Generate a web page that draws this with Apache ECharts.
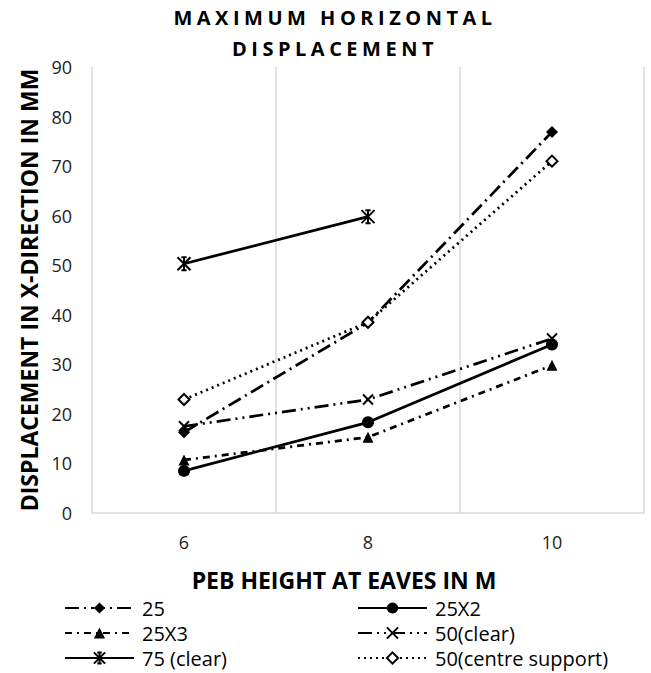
<!DOCTYPE html>
<html>
<head>
<meta charset="utf-8">
<script src="https://cdn.jsdelivr.net/npm/echarts@6/dist/echarts.min.js"></script>
<style>html,body{margin:0;padding:0;background:#fff;}#chart{width:651px;height:673px;}</style>
</head>
<body>
<div id="chart"></div>
<script>
var categories = ['6', '8', '10'];
var s25 = [16.3, 38.4, 76.9];
var s25x2 = [8.5, 18.3, 34.0];
var s25x3 = [10.7, 15.3, 29.8];
var s50clear = [17.5, 22.9, 35.2];
var s75clear = [50.3, 59.8, '-'];
var s50centre = [22.9, 38.5, 71.0];
var yTicks = [0, 10, 20, 30, 40, 50, 60, 70, 80, 90];

var FONT = '"Open Sans", "Liberation Sans", sans-serif';
var X_PATH = 'path://M0,0L10,10M10,0L0,10';
var STAR_PATH = 'path://M0,0L10,10M10,0L0,10M5,0L5,10M3,0L7,0M3,10L7,10';

function mk(name, data, lineType, symbol, size, fill, bw) {
  return {
    name: name,
    type: 'line',
    data: data,
    symbol: symbol,
    symbolSize: size,
    showSymbol: true,
    lineStyle: { color: '#000', width: 2.75, type: lineType },
    itemStyle: { color: fill, borderColor: '#000', borderWidth: bw },
    emphasis: { disabled: true },
    animation: false
  };
}

var chart = echarts.init(document.getElementById('chart'), null, { renderer: 'svg' });
chart.setOption({
  backgroundColor: '#fff',
  animation: false,
  title: {
    text: 'MAXIMUM HORIZONTAL\nDISPLACEMENT',
    left: 335, textAlign: 'center', top: 2, padding: 0,
    textStyle: { fontFamily: FONT, fontWeight: 'bold', fontSize: 20, lineHeight: 31, color: '#000' }
  },
  grid: { left: 92, right: 7, top: 67, bottom: 160 },
  xAxis: {
    type: 'category',
    data: categories,
    boundaryGap: true,
    name: 'PEB HEIGHT AT EAVES IN M',
    nameLocation: 'middle',
    nameGap: 55,
    nameTextStyle: { fontFamily: FONT, fontWeight: 'bold', fontSize: 23, color: '#000', padding: [0, 48, 0, 0] },
    axisLine: { lineStyle: { color: '#d9d9d9', width: 1.5 } },
    axisTick: { show: false },
    axisLabel: { fontFamily: FONT, fontSize: 18, color: '#222', margin: 20 },
    splitLine: { show: true, lineStyle: { color: '#d9d9d9', width: 1.5 } }
  },
  yAxis: {
    type: 'value',
    min: yTicks[0], max: yTicks[yTicks.length - 1], interval: 10,
    name: 'DISPLACEMENT IN X-DIRECTION IN MM',
    nameLocation: 'middle',
    nameGap: 52,
    nameTextStyle: { fontFamily: FONT, fontWeight: 'bold', fontSize: 23, color: '#000' },
    axisLine: { show: false },
    axisTick: { show: false },
    axisLabel: { fontFamily: FONT, fontSize: 18, color: '#222', margin: 20 },
    splitLine: { show: false }
  },
  legend: [
    {
      orient: 'vertical', left: 64, top: 598, padding: 0, itemGap: 5, itemWidth: 69, itemHeight: 14,
      data: ['25', '25X3', '75 (clear)'],
      textStyle: { fontFamily: FONT, fontSize: 20, lineHeight: 19, color: '#000', padding: [0, 0, 0, 3] }
    },
    {
      orient: 'vertical', left: 357, top: 598, padding: 0, itemGap: 5, itemWidth: 69, itemHeight: 14,
      data: ['25X2', '50(clear)', '50(centre support)'],
      textStyle: { fontFamily: FONT, fontSize: 20, lineHeight: 19, color: '#000', padding: [0, 0, 0, 3] }
    }
  ],
  series: [
    mk('25', s25, [14, 5, 2, 5], 'diamond', 12, '#000', 0),
    mk('25X2', s25x2, 'solid', 'circle', 12, '#000', 0),
    mk('25X3', s25x3, [7, 5, 2, 5], 'triangle', 11, '#000', 0),
    mk('50(clear)', s50clear, [14, 5, 2, 5, 2, 5], X_PATH, 10, '#000', 2),
    mk('75 (clear)', s75clear, 'solid', STAR_PATH, 13, '#000', 2),
    mk('50(centre support)', s50centre, [2, 4], 'diamond', 11, '#fff', 2)
  ]
});

function spaceTitle() {
  var texts = document.querySelectorAll('#chart svg text');
  texts.forEach(function (t) {
    var c = t.textContent;
    if ((c === 'MAXIMUM HORIZONTAL' || c === 'DISPLACEMENT') && !t.getAttribute('data-sp')) {
      t.setAttribute('letter-spacing', '4.5');
      t.setAttribute('data-sp', '1');
    }
  });
}
chart.getZr().refreshImmediately();
spaceTitle();
chart.on('finished', spaceTitle);
</script>
</body>
</html>
